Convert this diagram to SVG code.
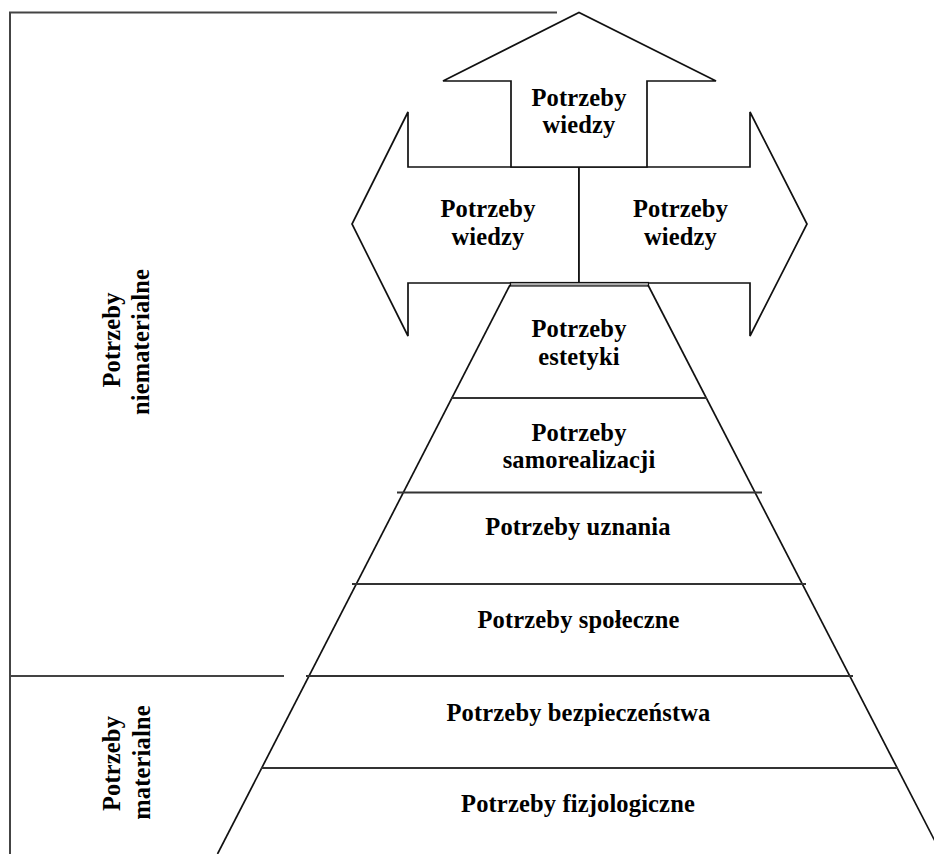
<svg xmlns="http://www.w3.org/2000/svg" width="934" height="854" viewBox="0 0 934 854">
<style>
.shape{fill:#fff;stroke:#111;stroke-width:1.7;stroke-linejoin:miter}
.edge{fill:none;stroke:#111;stroke-width:1.7}
.rule{fill:none;stroke:#333;stroke-width:2.2}
.brk{fill:none;stroke:#444;stroke-width:2}
.t{font-family:'Liberation Serif','Times New Roman',Times,serif;font-weight:bold;font-size:24.5px;letter-spacing:0.15px;fill:#000;text-anchor:middle}
</style>
<rect width="934" height="854" fill="#fff"/>
<g id="brackets">
<polyline class="brk" points="557,12.5 10,12.5 10,854"/>
<line class="brk" x1="10" y1="676" x2="284" y2="676"/>
</g>
<g id="label-niematerialne">
<text class="t" transform="translate(120,340) rotate(-90)">Potrzeby</text>
<text class="t" transform="translate(149,342) rotate(-90)">niematerialne</text>
</g>
<g id="label-materialne">
<text class="t" transform="translate(120,763.5) rotate(-90)">Potrzeby</text>
<text class="t" transform="translate(150,762.5) rotate(-90)">materialne</text>
</g>
<g id="arrow-left">
<polygon class="shape" points="579,167 408,167 408,112 352,224 408,336 408,283 579,283"/>
<text class="t" x="488" y="217">Potrzeby</text>
<text class="t" x="488" y="245">wiedzy</text>
</g>
<g id="arrow-right">
<polygon class="shape" points="579,167 750,167 750,112 807,224 750,336 750,283 579,283"/>
<text class="t" x="680.5" y="217">Potrzeby</text>
<text class="t" x="680.5" y="245">wiedzy</text>
</g>
<g id="arrow-up">
<polygon class="shape" points="511,167 511,81 443,81 579,12.5 716,81 647,81 647,167"/>
<text class="t" x="579" y="106">Potrzeby</text>
<text class="t" x="579" y="133">wiedzy</text>
</g>
<g id="pyramid-outline">
<rect x="510.5" y="282.5" width="138" height="3.5" fill="#b0b0b0" stroke="#111" stroke-width="1.2"/>
<line class="edge" x1="510" y1="285" x2="217.5" y2="854"/>
<line class="edge" x1="648" y1="285" x2="941.6" y2="854"/>
</g>
<g id="level-estetyki">
<line class="rule" x1="451" y1="398" x2="707" y2="398"/>
<text class="t" x="579" y="337">Potrzeby</text>
<text class="t" x="579" y="365">estetyki</text>
</g>
<g id="level-samorealizacji">
<line class="rule" x1="397" y1="492.5" x2="762" y2="492.5"/>
<text class="t" x="579" y="440.5">Potrzeby</text>
<text class="t" x="579" y="468">samorealizacji</text>
</g>
<g id="level-uznania">
<line class="rule" x1="352" y1="584" x2="806" y2="584"/>
<text class="t" x="578" y="535">Potrzeby uznania</text>
</g>
<g id="level-spoleczne">
<line class="rule" x1="306" y1="676" x2="853" y2="676"/>
<text class="t" x="578.5" y="628">Potrzeby społeczne</text>
</g>
<g id="level-bezpieczenstwa">
<line class="rule" x1="261" y1="768" x2="898" y2="768"/>
<text class="t" x="578.5" y="721">Potrzeby bezpieczeństwa</text>
</g>
<g id="level-fizjologiczne">
<text class="t" x="578" y="812">Potrzeby fizjologiczne</text>
</g>
<g id="connectors"/>
</svg>
